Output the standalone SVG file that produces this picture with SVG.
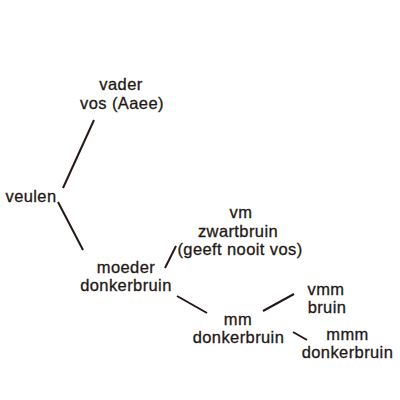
<svg xmlns="http://www.w3.org/2000/svg" width="400" height="400" viewBox="0 0 400 400">
<style>
text{font-family:"Liberation Sans",Arial,sans-serif;font-size:16.5px;letter-spacing:0.4px;fill:#231815;stroke:#231815;stroke-width:0.3px;text-anchor:middle}
.c line{stroke:#231815;stroke-width:2;stroke-linecap:butt}
</style>
<rect width="400" height="400" fill="#fff"/>
<g class="c" id="connectors">
<line x1="94" y1="120" x2="63" y2="188"/>
<line x1="58" y1="202" x2="83" y2="250"/>
<line x1="176" y1="246" x2="165" y2="268"/>
<line x1="177" y1="296" x2="207" y2="313"/>
<line x1="263" y1="311" x2="294" y2="294"/>
<line x1="293" y1="332" x2="307" y2="340"/>
</g>
<g id="vader"><text x="121" y="90">vader</text><text x="122" y="109">vos (Aaee)</text></g>
<g id="veulen"><text x="31" y="202">veulen</text></g>
<g id="vm"><text x="241" y="218">vm</text><text x="238" y="237">zwartbruin</text><text x="240" y="255">(geeft nooit vos)</text></g>
<g id="moeder"><text x="126" y="273">moeder</text><text x="126" y="291">donkerbruin</text></g>
<g id="mm"><text x="238" y="325">mm</text><text x="238.5" y="343">donkerbruin</text></g>
<g id="vmm"><text x="326" y="295">vmm</text><text x="327" y="313">bruin</text></g>
<g id="mmm"><text x="347.5" y="340">mmm</text><text x="347.5" y="358">donkerbruin</text></g>
</svg>
